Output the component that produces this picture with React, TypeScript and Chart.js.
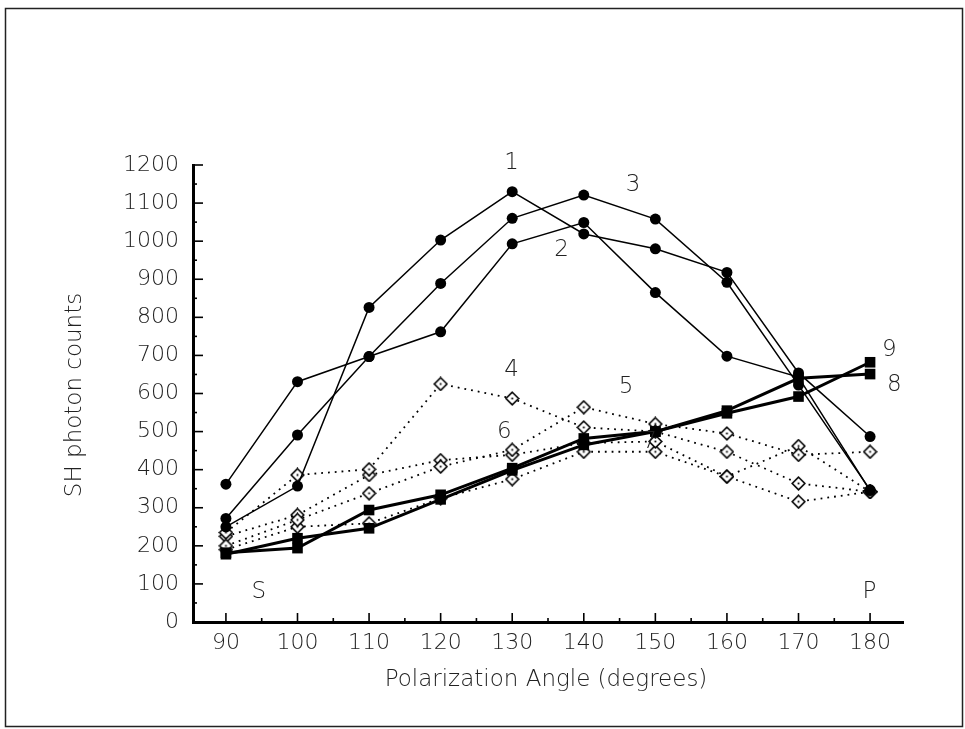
import { useEffect, useRef } from "react";
import { Chart, registerables } from "chart.js";

Chart.register(...registerables);

// ---- data ----
const angles = [90, 100, 110, 120, 130, 140, 150, 160, 170, 180];
const xTickValues = [90, 100, 110, 120, 130, 140, 150, 160, 170, 180];
const yTickValues = [0, 100, 200, 300, 400, 500, 600, 700, 800, 900, 1000, 1100, 1200];

const curve1 = [250, 357, 826, 1003, 1130, 1019, 980, 918, 654, 487];
const curve2 = [362, 631, 697, 762, 993, 1049, 865, 698, 643, 345];
const curve3 = [272, 491, 697, 889, 1060, 1121, 1058, 892, 622, 347];
const curve4 = [235, 386, 401, 625, 587, 511, 500, 447, 364, 342];
const curve5 = [200, 268, 338, 408, 452, 564, 520, 495, 439, 447];
const curve6 = [225, 281, 386, 425, 439, 470, 474, 382, 462, 342];
const curve7 = [190, 250, 259, 325, 375, 447, 447, 382, 316, 342];
const curve8 = [178, 220, 246, 322, 398, 465, 500, 555, 640, 651];
const curve9 = [182, 194, 294, 334, 404, 482, 500, 548, 592, 682];

const noteTexts = ["1", "2", "3", "4", "5", "6", "7", "8", "9", "S", "P"];
const noteX = [129.9, 136.9, 146.9, 129.9, 145.9, 128.9, 149.2, 183.4, 182.7, 94.6, 179.9];
const noteY = [1205, 977, 1148, 662, 617, 499, 473, 622, 714, 79, 79];

const xTitle = "Polarization Angle (degrees)";
const yTitle = "SH photon counts";

const FAMILY = '"DejaVu Sans ExtraLight", "DejaVu Sans", sans-serif';
const INK = "#222";

function makeDiamond(): HTMLCanvasElement {
  const c = document.createElement("canvas");
  c.width = 15;
  c.height = 15;
  const g = c.getContext("2d")!;
  g.beginPath();
  g.moveTo(7.5, 1.2);
  g.lineTo(13.8, 7.5);
  g.lineTo(7.5, 13.8);
  g.lineTo(1.2, 7.5);
  g.closePath();
  g.fillStyle = "#fff";
  g.fill();
  g.lineWidth = 1.6;
  g.strokeStyle = "#000";
  g.stroke();
  g.fillStyle = "#000";
  g.fillRect(6.6, 6.6, 1.8, 1.8);
  return c;
}

const pts = (vals: number[]) => angles.map((x, i) => ({ x, y: vals[i] }));

export default function App() {
  const ref = useRef<HTMLCanvasElement | null>(null);

  useEffect(() => {
    if (!ref.current) return;
    const diamond = makeDiamond();

    const circleDs = (label: string, vals: number[]) => ({
      label,
      data: pts(vals),
      borderColor: "#000",
      borderWidth: 1.5,
      pointStyle: "circle",
      pointRadius: 5.5,
      pointBackgroundColor: "#000",
      pointBorderColor: "#000",
      pointBorderWidth: 0,
      order: 1,
    });
    const diamondDs = (label: string, vals: number[]) => ({
      label,
      data: pts(vals),
      borderColor: "#000",
      borderWidth: 1.8,
      borderDash: [1.8, 5],
      pointStyle: diamond,
      pointRadius: 6,
      order: 2,
    });
    const squareDs = (label: string, vals: number[]) => ({
      label,
      data: pts(vals),
      borderColor: "#000",
      borderWidth: 3,
      pointStyle: "rect",
      pointRadius: 7.5,
      pointBackgroundColor: "#000",
      pointBorderColor: "#000",
      pointBorderWidth: 0,
      order: 0,
    });

    const decor = {
      id: "decor",
      beforeDraw(chart: any) {
        const ctx = chart.ctx;
        ctx.save();
        ctx.fillStyle = "#fff";
        ctx.fillRect(0, 0, chart.width, chart.height);
        ctx.strokeStyle = "#222";
        ctx.lineWidth = 1.5;
        ctx.strokeRect(5.5, 8.5, 957, 718);
        ctx.restore();
      },
      afterDraw(chart: any) {
        const ctx = chart.ctx;
        const xs = chart.scales.x;
        const ys = chart.scales.y;
        const area = chart.chartArea;
        ctx.save();
        ctx.strokeStyle = "#000";
        ctx.lineWidth = 1.6;
        // x ticks (inward)
        for (let v = 90; v <= 180; v += 5) {
          const px = xs.getPixelForValue(v);
          const len = v % 10 === 0 ? 9 : 4;
          ctx.beginPath();
          ctx.moveTo(px, area.bottom);
          ctx.lineTo(px, area.bottom - len);
          ctx.stroke();
        }
        // y ticks (inward)
        for (let v = 50; v <= 1200; v += 50) {
          const py = ys.getPixelForValue(v);
          const len = v % 100 === 0 ? 10 : 4;
          ctx.beginPath();
          ctx.moveTo(area.left, py);
          ctx.lineTo(area.left + len, py);
          ctx.stroke();
        }
        // titles
        ctx.fillStyle = INK;
        ctx.font = `200 23px ${FAMILY}`;
        ctx.textAlign = "center";
        ctx.textBaseline = "middle";
        ctx.fillText(xTitle, 546, 680);
        ctx.save();
        ctx.translate(75, 395);
        ctx.rotate(-Math.PI / 2);
        ctx.fillText(yTitle, 0, 0);
        ctx.restore();
        // curve notes
        ctx.font = `200 23px ${FAMILY}`;
        noteTexts.forEach((t, i) => {
          ctx.fillText(t, xs.getPixelForValue(noteX[i]), ys.getPixelForValue(noteY[i]));
        });
        ctx.restore();
      },
    };

    const chart = new Chart(ref.current, {
      type: "line",
      data: {
        datasets: [
          circleDs("1", curve1),
          circleDs("2", curve2),
          circleDs("3", curve3),
          diamondDs("4", curve4),
          diamondDs("5", curve5),
          diamondDs("6", curve6),
          diamondDs("7", curve7),
          squareDs("8", curve8),
          squareDs("9", curve9),
        ] as any,
      },
      options: {
        responsive: false,
        animation: false,
        clip: false as any,
        layout: { padding: { left: 0, top: 165, right: 62, bottom: 0 } },
        plugins: { legend: { display: false }, tooltip: { enabled: false } },
        elements: { line: { tension: 0 } },
        scales: {
          x: {
            type: "linear",
            min: 85.4,
            max: 184.6,
            afterFit: (s: any) => {
              s.height = 107;
            },
            afterBuildTicks: (s: any) => {
              s.ticks = xTickValues.map((v) => ({ value: v }));
            },
            grid: { display: false, drawTicks: false },
            border: { display: true, color: "#000", width: 3 },
            ticks: {
              padding: 8,
              color: INK,
              font: { family: FAMILY, size: 22, weight: 200 as any },
              autoSkip: false,
              maxRotation: 0,
              callback: (v: any) => String(v),
            },
          },
          y: {
            type: "linear",
            min: 0,
            max: 1200,
            afterFit: (s: any) => {
              s.width = 193;
            },
            afterBuildTicks: (s: any) => {
              s.ticks = yTickValues.map((v) => ({ value: v }));
            },
            grid: { display: false, drawTicks: false },
            border: { display: true, color: "#000", width: 3 },
            ticks: {
              padding: 14,
              color: INK,
              font: { family: FAMILY, size: 22, weight: 200 as any },
              autoSkip: false,
              callback: (v: any) => String(v),
            },
          },
        },
      },
      plugins: [decor],
    });
    return () => chart.destroy();
  }, []);

  return (
    <div style={{ position: "absolute", left: 0, top: 0, width: 965, height: 729 }}>
      <canvas ref={ref} width={965} height={729} style={{ display: "block" }} />
    </div>
  );
}
